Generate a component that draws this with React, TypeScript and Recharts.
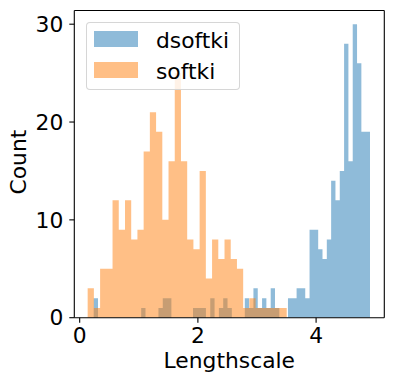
import { ComposedChart, Area, XAxis, YAxis, Legend, ReferenceLine } from 'recharts';

// histogram counts, left bin to right bin
const DSOFTKI_COUNTS = [
  2, 0, 0, 0, 0, 0, 0, 0, 0, 0, 0, 1, 0, 0, 0, 1, 2, 2, 0, 0, 0, 0, 0, 1, 1, 1, 0, 2, 0, 1, 2, 1,
  0, 0, 0, 2, 1, 3, 1, 2, 1, 3, 1, 0, 0, 2, 2, 3, 3, 2, 9, 9, 7, 6, 8, 14, 12, 15, 28, 16, 30, 26, 19, 19,
];
const SOFTKI_COUNTS = [
  3, 1, 5, 5, 12, 9, 12, 8, 9, 17, 21, 19, 10, 16, 25, 16, 8, 7, 15, 4, 8, 6, 8, 6, 5, 1, 2, 1, 1, 1, 1, 1,
];
// bin range (min, max of the samples)
const DSOFTKI_RANGE = [0.237, 4.912];
const SOFTKI_RANGE = [0.135, 3.503];

const X_TICKS = [0, 2, 4];
const Y_TICKS = [0, 10, 20, 30];
const X_DOMAIN = [-0.091, 5.154];
const Y_DOMAIN = [0, 31.4];

const SERIES = [
  { name: 'dsoftki', color: '#1f77b4', counts: DSOFTKI_COUNTS, range: DSOFTKI_RANGE },
  { name: 'softki', color: '#ff7f0e', counts: SOFTKI_COUNTS, range: SOFTKI_RANGE },
];

const FONT = '"DejaVu Sans", sans-serif';
const FS = 21.8;

// one point per bin edge, drawn as a stepAfter area
function toSteps(counts: number[], range: number[]) {
  const w = (range[1] - range[0]) / counts.length;
  const pts = counts.map((c, i) => ({ x: range[0] + i * w, y: c }));
  pts.push({ x: range[1], y: counts[counts.length - 1] });
  return pts;
}

function XTitle(props: any) {
  const vb = props.viewBox || { x: 74, y: 318, width: 310, height: 65 };
  return (
    <text x={vb.x + vb.width / 2} y={vb.y + 50.5} textAnchor="middle" fontFamily={FONT} fontSize={FS} fill="#000">
      Lengthscale
    </text>
  );
}

function YTitle(props: any) {
  const vb = props.viewBox || { x: 0, y: 10.5, width: 74, height: 307 };
  const x = vb.x + 26.5;
  const y = vb.y + vb.height / 2 - 2;
  return (
    <text x={x} y={y} transform={`rotate(-90 ${x} ${y})`} textAnchor="middle" fontFamily={FONT} fontSize={FS} fill="#000">
      Count
    </text>
  );
}

function renderLegend() {
  return (
    <div
      style={{
        boxSizing: 'border-box',
        width: 154.3,
        height: 68.3,
        border: '1px solid rgba(204,204,204,0.8)',
        borderRadius: 4,
        background: 'rgba(255,255,255,0.8)',
        padding: '1px 0 0 7.3px',
        fontFamily: FONT,
        fontSize: FS,
        color: '#000',
      }}
    >
      {SERIES.map(s => (
        <div key={s.name} style={{ display: 'flex', alignItems: 'center', height: 31 }}>
          <div style={{ width: 44, height: 16, background: s.color, opacity: 0.5 }} />
          <span style={{ marginLeft: 18, paddingTop: 2 }}>{s.name}</span>
        </div>
      ))}
    </div>
  );
}

export default function App() {
  const axisLine = { stroke: '#000', strokeWidth: 1.1 };
  const tick = { fontFamily: FONT, fontSize: FS, fill: '#000' };

  return (
    <div style={{ position: 'absolute', left: 0, top: 0, background: '#fff' }}>
      <ComposedChart width={393} height={383} margin={{ top: 10.5, right: 8.7, left: 0, bottom: 0 }}>
        <XAxis
          dataKey="x"
          type="number"
          domain={X_DOMAIN}
          ticks={X_TICKS}
          allowDataOverflow
          height={65.3}
          tick={tick}
          tickSize={5}
          tickMargin={5}
          axisLine={axisLine}
          tickLine={axisLine}
          label={<XTitle />}
        />
        <YAxis
          type="number"
          domain={Y_DOMAIN}
          ticks={Y_TICKS}
          allowDataOverflow
          width={74.3}
          tick={tick}
          tickSize={5}
          tickMargin={6}
          axisLine={axisLine}
          tickLine={axisLine}
          label={<YTitle />}
        />
        {SERIES.map(s => (
          <Area
            key={s.name}
            name={s.name}
            data={toSteps(s.counts, s.range)}
            dataKey="y"
            type="stepAfter"
            fill={s.color}
            fillOpacity={0.5}
            stroke="none"
            activeDot={false}
            isAnimationActive={false}
          />
        ))}
        {/* top and right spines */}
        <ReferenceLine y={Y_DOMAIN[1]} stroke="#000" strokeWidth={1.1} />
        <ReferenceLine x={X_DOMAIN[1]} stroke="#000" strokeWidth={1.1} />
        <Legend
          layout="vertical"
          align="center"
          verticalAlign="middle"
          content={renderLegend}
          wrapperStyle={{ position: 'absolute', left: 85.7, top: 21.7, width: 'auto' }}
        />
      </ComposedChart>
    </div>
  );
}
